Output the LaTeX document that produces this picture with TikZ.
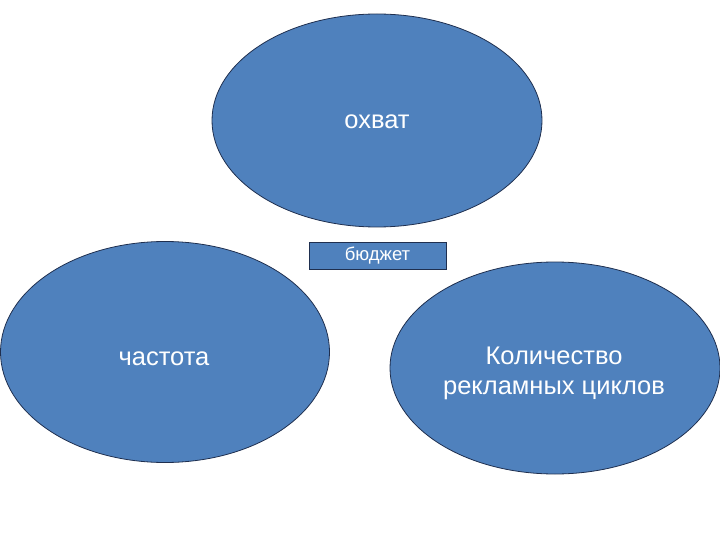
\documentclass[tikz,border=0pt]{standalone}
\usepackage{fontspec}
\setmainfont{Liberation Sans}
\usetikzlibrary{shapes.geometric}
\definecolor{fillblue}{HTML}{4F81BD}
\definecolor{edgeblue}{HTML}{1F2F4F}
\begin{document}
\begin{tikzpicture}[x=1pt,y=-1pt,
  oval/.style={ellipse, draw=edgeblue, line width=0.8pt, fill=fillblue, inner sep=0pt},
  label/.style={text=white, font=\fontsize{25.5}{30}\selectfont, align=center, inner sep=0pt},
  tag/.style={rectangle, draw=edgeblue, line width=0.8pt, fill=fillblue, inner sep=0pt, text=white, font=\fontsize{18.5}{22}\selectfont}]
\useasboundingbox (0,0) rectangle (720,540);
\node[oval, minimum width=330pt, minimum height=213pt] (top) at (377,120.5) {};
\node[label] (topt) at (377,122) {охват};
\node[oval, minimum width=329pt, minimum height=221pt] (left) at (165,352) {};
\node[label] (leftt) at (164,359) {частота};
\node[oval, minimum width=330pt, minimum height=212pt] (right) at (555,368) {};
\node[label] (rightt) at (554,373) {Количество\\ рекламных циклов};
\node[tag, minimum width=137pt, minimum height=27pt] (budget) at (377.5,255.5) {бюджет};
\end{tikzpicture}
\end{document}
